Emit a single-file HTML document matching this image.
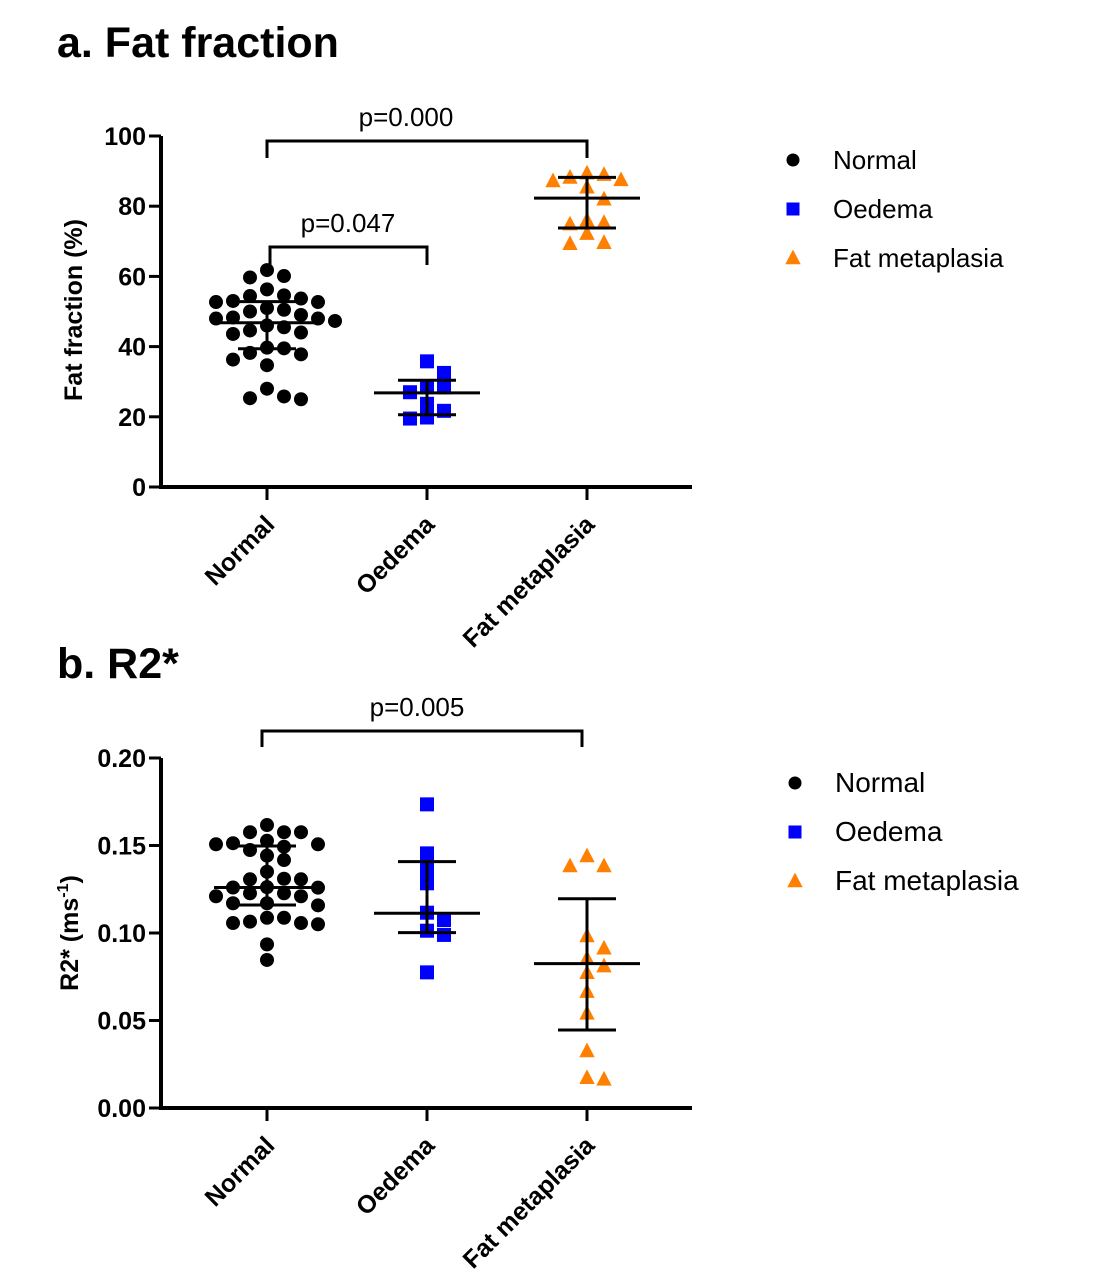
<!DOCTYPE html>
<html><head><meta charset="utf-8"><style>
html,body{margin:0;padding:0;background:#fff}
svg{display:block;font-family:"Liberation Sans",Arial,sans-serif}
</style></head><body>
<svg id="fig" width="1094" height="1285" viewBox="0 0 1094 1285">
<text x="57" y="57" font-size="43" font-weight="bold">a. Fat fraction</text>
<text x="57" y="678" font-size="43" font-weight="bold">b. R2*</text>
<g id="chartA"></g>
<g id="chartB"></g>
</svg>
<script>
const categories = ["Normal", "Oedema", "Fat metaplasia"];
const colors = ["#000000", "#0000ff", "#ff8000"];
const ffNormal = [60.1,59.7,61.8,56.3,53.7,54.6,54.4,52.7,52.7,53,51,50,49,50.5,48,47.3,48.3,48,45.5,44.6,43.6,44,46,39.7,39.5,38.2,37.8,36.3,34.7,25.8,25,25.3,28];
const ffOedema = [32.5,35.8,28.4,27,28.4,23.7,21.7,19.5,19.8];
const ffFat = [89,87.5,85.4,87.2,88.2,89.4,82,75.3,76,74.9,72.2,69.3,69.6];
const ffMean = [46.8, 26.8, 82.3];
const ffLow = [39.4, 20.6, 73.8];
const ffHigh = [52.8, 30.4, 88.2];
const ffTicks = [0,20,40,60,80,100];
const r2Normal = [0.1617,0.1527,0.1507,0.1493,0.1576,0.1576,0.1576,0.1513,0.1507,0.1474,0.1442,0.1417,0.135,0.1307,0.131,0.1307,0.1259,0.126,0.1262,0.1227,0.121,0.121,0.1227,0.117,0.117,0.1158,0.1087,0.1065,0.1057,0.105,0.1057,0.1087,0.0935,0.0846];
const r2Oedema = [0.1735,0.1455,0.136,0.1284,0.1116,0.1074,0.1013,0.0989,0.0775];
const r2Fat = [0.144,0.1383,0.1383,0.0983,0.0913,0.0855,0.0811,0.0773,0.0665,0.0541,0.0326,0.0164,0.0173];
const r2Mean = [0.126, 0.1113, 0.0825];
const r2Low = [0.116, 0.1002, 0.0446];
const r2High = [0.1497, 0.1408, 0.1196];
const r2Ticks = [0,0.05,0.10,0.15,0.20];

const NS="http://www.w3.org/2000/svg";
function mk(parent,tag,attrs,text){const e=document.createElementNS(NS,tag);for(const k in attrs)e.setAttribute(k,attrs[k]);if(text!==undefined)e.textContent=text;parent.appendChild(e);return e;}
function marker(g,kind,cx,cy,s,color){
  let e;
  if(kind===0) e=mk(g,'circle',{cx:cx,cy:cy,r:s/2,fill:color});
  else if(kind===1) e=mk(g,'rect',{x:cx-s/2,y:cy-s/2,width:s,height:s,fill:color});
  else e=mk(g,'polygon',{points:`${cx},${cy-s*0.6} ${cx+s*0.55},${cy+s*0.45} ${cx-s*0.55},${cy+s*0.45}`,fill:color});
  return e;
}
function swarm(ys,dx,dy){
  const idx=ys.map((y,i)=>i).sort((a,b)=>ys[a]-ys[b]);const placed=[];const off=new Array(ys.length).fill(0);
  for(const i of idx){let best=0;for(let k=0;k<400;k++){const o=(k%2?1:-1)*Math.ceil(k/2);let ok=true;for(const p of placed){if(Math.abs(o-p[0])<dx&&Math.abs(ys[i]-p[1])<dy){ok=false;break;}}if(ok){best=o;break;}}off[i]=best;placed.push([best,ys[i]]);}
  return off;
}
function chart(gid,cfg){
  const g=document.getElementById(gid);
  const X0=161,X1=692,xs=i=>267+160*i;
  const ys=v=>cfg.yb-(v-cfg.min)/(cfg.max-cfg.min)*(cfg.yb-cfg.yt);
  const ax=mk(g,'path',{d:`M${X0},${cfg.yt} V${cfg.yb} H${X1}`,stroke:'#000','stroke-width':4,fill:'none'});
  
  
  cfg.ticks.forEach(t=>{
    const y=ys(t);
    mk(g,'line',{x1:X0-12,x2:X0,y1:y,y2:y,stroke:'#000','stroke-width':3});
    const tl=mk(g,'text',{x:X0-15,y:y+9,'font-size':25,'font-weight':'bold','text-anchor':'end'},cfg.fmt(t));
    
    
  });
  const yt=mk(g,'text',{x:0,y:0,'font-size':25,'font-weight':'bold','text-anchor':'middle',transform:`translate(${cfg.titleX},${cfg.titleY}) rotate(-90)`});
  yt.innerHTML=cfg.title;
  
  
  categories.forEach((c,i)=>{
    mk(g,'line',{x1:xs(i),x2:xs(i),y1:cfg.yb,y2:cfg.yb+13,stroke:'#000','stroke-width':3});
    const xl=mk(g,'text',{x:0,y:0,'font-size':25,'font-weight':'bold','text-anchor':'end',transform:`translate(${xs(i)+9},${cfg.yb+39}) rotate(-45)`},c);
    
    
  });
  cfg.series.forEach((vals,i)=>{
    const py=vals.map(ys);const off=swarm(py,cfg.dx,cfg.dy);
    vals.forEach((v,j)=>{const m=marker(g,i,xs(i)+off[j],py[j],cfg.size,colors[i]);
      
      });
    const cx=xs(i),eb=mk(g,'path',{d:`M${cx-53},${ys(cfg.mean[i])} H${cx+53} M${cx-29},${ys(cfg.low[i])} H${cx+29} M${cx-29},${ys(cfg.high[i])} H${cx+29} M${cx},${ys(cfg.low[i])} V${ys(cfg.high[i])}`,stroke:'#000','stroke-width':3,fill:'none'});
    
    
  });
  cfg.brackets.forEach(b=>{
    const bp=mk(g,'path',{d:`M${b[0]},${b[2]+b[4]} V${b[2]} H${b[1]} V${b[2]+b[4]}`,stroke:'#000','stroke-width':3,fill:'none'});
    
    
    const bt=mk(g,'text',{x:b[5],y:b[2]-15,'font-size':26,'text-anchor':'middle'},b[3]);
    
    
  });
  categories.forEach((c,i)=>{
    const ly=cfg.legY+49*i;
    const lm=marker(g,i,cfg.legX,ly,i===2?14:13,colors[i]);
    
    
    const lt=mk(g,'text',{x:cfg.legX+40,y:ly+9,'font-size':cfg.legFont},c);
    
    
  });
}
chart('chartA',{min:0,max:100,yt:136,yb:487,ticks:ffTicks,fmt:t=>String(t),title:'Fat fraction (%)',titleX:82,titleY:310,
  series:[ffNormal,ffOedema,ffFat],mean:ffMean,low:ffLow,high:ffHigh,size:14,dx:17,dy:13,
  brackets:[[267,587,141,'p=0.000',17,406],[270,427,247,'p=0.047',18,348]],legX:793,legY:160,legFont:26});
chart('chartB',{min:0,max:0.2,yt:758,yb:1108,ticks:r2Ticks,fmt:t=>t.toFixed(2),title:'R2* (ms<tspan dy="-10" font-size="16">-1</tspan><tspan dy="10">)</tspan>',titleX:78,titleY:933,
  series:[r2Normal,r2Oedema,r2Fat],mean:r2Mean,low:r2Low,high:r2High,size:14,dx:17,dy:13,
  brackets:[[262,582,731,'p=0.005',16,417]],legX:795,legY:783,legFont:28});
</script>
</body></html>
